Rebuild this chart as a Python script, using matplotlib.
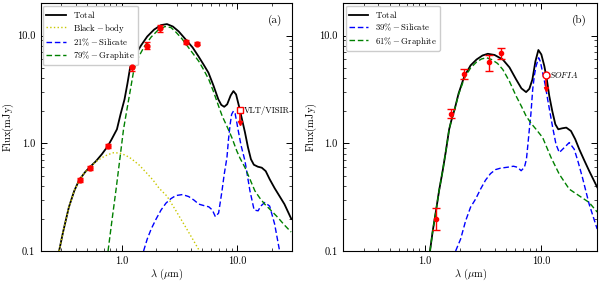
import matplotlib
matplotlib.use("Agg")
import matplotlib.pyplot as plt
from matplotlib.ticker import FixedLocator, FixedFormatter, LogLocator, NullFormatter


# ---- panel (a) ----
A_TOTAL_WL = [0.288, 0.313, 0.350, 0.389, 0.429, 0.483, 0.536, 0.600, 0.675, 0.759,
              0.821, 0.912, 0.98, 1.061, 1.125, 1.187, 1.292, 1.474, 1.668, 1.914,
              2.197, 2.472, 2.782, 3.13, 3.594, 4.125, 4.64, 5.12, 5.65, 6.24,
              6.88, 7.30, 7.74, 8.21, 8.80, 9.30, 9.80, 10.40, 11.03, 11.70,
              12.42, 13.18, 13.97, 15.11, 16.36, 17.70, 19.14, 21.13, 23.3, 25.7, 29.5]
A_TOTAL_F = [0.100, 0.153, 0.255, 0.360, 0.454, 0.539, 0.606, 0.681, 0.791, 0.938,
             1.089, 1.348, 1.856, 2.556, 3.59, 5.06, 6.39, 8.08, 9.79, 11.36,
             12.5, 12.77, 12.12, 10.89, 9.18, 7.74, 6.39, 5.39, 4.52, 3.44,
             2.556, 2.27, 2.18, 2.30, 2.78, 3.05, 2.84, 2.20, 1.668, 1.264,
             0.918, 0.711, 0.632, 0.606, 0.593, 0.551, 0.464, 0.383, 0.323, 0.272, 0.198]

A_BB_WL = [0.288, 0.313, 0.350, 0.389, 0.429, 0.483, 0.536, 0.600, 0.675, 0.759,
           0.854, 0.961, 1.082, 1.218, 1.425, 1.668, 1.877, 2.11, 2.472, 2.952,
           3.594, 4.125, 4.73]
A_BB_F = [0.100, 0.153, 0.255, 0.360, 0.454, 0.539, 0.606, 0.674, 0.734, 0.783,
          0.817, 0.811, 0.774, 0.718, 0.626, 0.522, 0.454, 0.383, 0.323, 0.237,
          0.166, 0.129, 0.100]

A_SIL_WL = [1.551, 1.668, 1.805, 1.991, 2.197, 2.424, 2.675, 2.952, 3.37, 3.81,
            4.23, 4.67, 5.15, 5.69, 6.11, 6.49, 6.92, 7.40, 7.74, 8.17,
            8.43, 8.71, 8.97, 9.30, 9.61, 9.94, 10.26, 10.82, 11.70, 12.92,
            14.05, 15.21, 16.03, 17.35, 19.14, 21.13, 23.3]
A_SIL_F = [0.100, 0.129, 0.160, 0.198, 0.240, 0.278, 0.306, 0.327, 0.334, 0.320,
           0.297, 0.272, 0.264, 0.257, 0.240, 0.208, 0.225, 0.360, 0.516, 0.737,
           1.089, 1.50, 1.856, 1.99, 1.896, 1.564, 1.292, 0.958, 0.686, 0.362,
           0.240, 0.236, 0.261, 0.282, 0.261, 0.178, 0.101]

A_GRA_WL = [0.764, 0.829, 0.897, 0.971, 1.040, 1.114, 1.194, 1.279, 1.397, 1.573,
            1.805, 2.071, 2.377, 2.675, 2.952, 3.32, 3.74, 4.21, 4.67, 5.12,
            5.69, 6.24, 6.92, 7.45, 8.17, 9.01, 9.94, 10.61, 11.70, 12.92,
            14.25, 15.73, 17.35, 19.9, 22.5, 25.7, 29.35]
A_GRA_F = [0.100, 0.198, 0.375, 0.742, 1.348, 2.065, 3.16, 4.84, 6.26, 7.91,
           9.69, 11.24, 12.12, 11.86, 10.77, 9.38, 7.91, 6.67, 5.75, 4.84,
           3.91, 3.03, 2.21, 1.778, 1.437, 1.129, 0.849, 0.726, 0.596, 0.464,
           0.362, 0.310, 0.272, 0.235, 0.205, 0.174, 0.150]

A_OBS_WL = [0.435, 0.536, 0.77, 1.235, 1.66, 2.15, 3.6, 4.52]
A_OBS_F = [0.46, 0.587, 0.94, 5.05, 8.08, 11.7, 8.67, 8.43]
A_OBS_ERR = [0.02, 0.025, 0.04, 0.35, 0.6, 0.9, 0.4, 0.3]

A_LIM_WL = 10.5
A_LIM_F = 2.02
A_LIM_LOW = 1.53
A_LIM_NAME = "VLT/VISIR"

# ---- panel (b) ----
B_TOTAL_WL = [1.110, 1.171, 1.249, 1.330, 1.425, 1.527, 1.620, 1.702, 1.805, 1.952,
              2.184, 2.472, 2.782, 3.13, 3.475, 3.97, 4.67, 5.33, 6.08, 6.75,
              7.40, 7.89, 8.38, 8.89, 9.43, 10.0, 10.61, 11.14, 11.70, 12.42,
              13.18, 13.97, 15.11, 16.36, 17.94, 19.53, 21.13, 23.3, 25.7, 30.1]
B_TOTAL_F = [0.100, 0.153, 0.236, 0.367, 0.554, 0.880, 1.348, 1.668, 2.065, 2.90,
             4.17, 5.28, 5.99, 6.53, 6.77, 6.60, 5.99, 5.06, 3.91, 3.23,
             2.985, 3.20, 3.91, 5.75, 7.34, 6.67, 5.20, 3.91, 2.74, 1.978,
             1.50, 1.348, 1.377, 1.397, 1.30, 1.089, 0.880, 0.696, 0.554, 0.391]

B_SIL_WL = [1.841, 2.031, 2.241, 2.472, 2.729, 3.01, 3.32, 3.66, 4.04, 4.46,
            5.12, 5.76, 6.24, 6.71, 7.16, 7.45, 7.67, 7.89, 8.13, 8.43,
            8.71, 9.01, 9.48, 9.80, 10.26, 10.82, 11.32, 11.94, 12.50, 13.35,
            14.25, 15.73, 17.35, 19.14, 20.7, 22.5, 25.7, 30.1]
B_SIL_F = [0.100, 0.129, 0.190, 0.255, 0.303, 0.375, 0.454, 0.522, 0.569, 0.587,
           0.599, 0.612, 0.599, 0.556, 0.599, 0.711, 0.979, 1.348, 1.856, 3.16,
           4.26, 5.20, 6.22, 5.75, 4.52, 3.44, 2.556, 1.856, 1.406, 0.979,
           0.820, 0.912, 1.015, 0.880, 0.667, 0.481, 0.272, 0.160]

B_GRA_WL = [1.110, 1.171, 1.249, 1.330, 1.425, 1.527, 1.620, 1.702, 1.805, 1.952,
            2.184, 2.472, 2.782, 3.07, 3.39, 3.74, 4.21, 4.67, 5.33, 6.08,
            6.75, 7.40, 8.17, 9.01, 10.26, 12.11, 14.25, 17.35, 21.13, 25.7, 30.1]
B_GRA_F = [0.100, 0.153, 0.236, 0.367, 0.554, 0.880, 1.348, 1.668, 2.065, 2.843,
           4.0, 5.00, 5.68, 6.06, 6.22, 5.99, 5.51, 4.84, 3.75, 2.74,
           2.20, 1.79, 1.53, 1.348, 1.129, 0.737, 0.516, 0.375, 0.325, 0.282, 0.23]

B_OBS_WL = [1.24, 1.67, 2.17, 3.59, 4.52]
B_OBS_F = [0.20, 1.88, 4.38, 5.62, 6.9]
B_OBS_ERR_LO = [0.045, 0.18, 0.47, 0.95, 0.8]
B_OBS_ERR_HI = [0.05, 0.18, 0.46, 0.91, 0.73]

B_LIM_WL = 11.0
B_LIM_F = 4.26
B_LIM_LOW = 3.16
B_LIM_NAME = r"$SOFIA$"

TICK_VALUES_Y = [0.1, 1.0, 10.0]
TICK_LABELS_Y = ["0.1", "1.0", "10.0"]
TICK_VALUES_X = [1.0, 10.0]
TICK_LABELS_X = ["1.0", "10.0"]


def setup_style():
    plt.rcParams["font.family"] = "serif"
    plt.rcParams["font.serif"] = ["cmr10", "DejaVu Serif"]
    plt.rcParams["mathtext.fontset"] = "cm"
    plt.rcParams["axes.unicode_minus"] = False
    plt.rcParams["axes.linewidth"] = 0.8


def style_axes(ax):
    ax.set_xscale("log")
    ax.set_yscale("log")
    ax.set_xlim(0.2, 30)
    ax.set_ylim(0.1, 20)

    ax.xaxis.set_major_locator(FixedLocator(TICK_VALUES_X))
    ax.xaxis.set_major_formatter(FixedFormatter(TICK_LABELS_X))
    ax.yaxis.set_major_locator(FixedLocator(TICK_VALUES_Y))
    ax.yaxis.set_major_formatter(FixedFormatter(TICK_LABELS_Y))
    ax.xaxis.set_minor_locator(LogLocator(base=10, subs=range(2, 10)))
    ax.yaxis.set_minor_locator(LogLocator(base=10, subs=range(2, 10)))
    ax.xaxis.set_minor_formatter(NullFormatter())
    ax.yaxis.set_minor_formatter(NullFormatter())

    ax.tick_params(which="both", direction="in", top=True, right=True, labelsize=7.5)
    ax.tick_params(which="major", length=4, width=0.7, pad=4)
    ax.tick_params(which="minor", length=2, width=0.5)

    ax.set_xlabel(r"$\lambda\ (\mu{\rm m})$", fontsize=7.5, labelpad=0.5)
    ax.set_ylabel(r"${\rm Flux(mJy)}$", fontsize=7.5, labelpad=0.5)


def draw_limit(ax, wl, flux, low, marker):
    ax.plot([wl, wl], [flux, low], color="red", lw=1.2, zorder=4)
    ax.plot(wl, low, marker="v", color="red", ms=3, zorder=4)
    ax.plot(wl, flux, marker=marker, mfc="white", mec="red", mew=1.0, ms=5,
            ls="none", zorder=5)


def add_legend(ax):
    ax.legend(loc="upper left", fontsize=6.3, framealpha=1, edgecolor="#cccccc",
              borderaxespad=0.3, handlelength=2.2, labelspacing=0.2,
              borderpad=0.35)


def panel_a(ax):
    ax.plot(A_TOTAL_WL, A_TOTAL_F, color="black", lw=1.3, label=r"$\rm Total$")
    ax.plot(A_BB_WL, A_BB_F, color="#c8c800", lw=1.0, ls=":",
            label=r"$\rm Black-body$")
    ax.plot(A_SIL_WL, A_SIL_F, color="blue", lw=1.0, ls=(0, (4, 2)),
            label=r"$\rm 21\%-Silicate$")
    ax.plot(A_GRA_WL, A_GRA_F, color="green", lw=1.0, ls=(0, (4, 2)),
            label=r"$\rm 79\%-Graphite$")

    ax.errorbar(A_OBS_WL, A_OBS_F, yerr=A_OBS_ERR, fmt="o", color="red",
                ms=3.5, capsize=2.5, elinewidth=1, capthick=1, zorder=5)
    draw_limit(ax, A_LIM_WL, A_LIM_F, A_LIM_LOW, "s")
    ax.text(A_LIM_WL * 1.08, A_LIM_F, A_LIM_NAME, fontsize=6.2, va="center",
            ha="left")

    ax.text(0.96, 0.955, "(a)", transform=ax.transAxes, fontsize=8,
            ha="right", va="top")
    add_legend(ax)


def panel_b(ax):
    ax.plot(B_TOTAL_WL, B_TOTAL_F, color="black", lw=1.3, label=r"$\rm Total$")
    ax.plot(B_SIL_WL, B_SIL_F, color="blue", lw=1.0, ls=(0, (4, 2)),
            label=r"$\rm 39\%-Silicate$")
    ax.plot(B_GRA_WL, B_GRA_F, color="green", lw=1.0, ls=(0, (4, 2)),
            label=r"$\rm 61\%-Graphite$")

    ax.errorbar(B_OBS_WL, B_OBS_F, yerr=[B_OBS_ERR_LO, B_OBS_ERR_HI], fmt="o",
                color="red", ms=3, capsize=3, elinewidth=1, capthick=1, zorder=5)
    draw_limit(ax, B_LIM_WL, B_LIM_F, B_LIM_LOW, "o")
    ax.text(B_LIM_WL * 1.06, B_LIM_F, B_LIM_NAME, fontsize=6.2, va="center",
            ha="left")

    ax.text(0.96, 0.955, "(b)", transform=ax.transAxes, fontsize=8,
            ha="right", va="top")
    add_legend(ax)


def main():
    setup_style()
    fig = plt.figure(figsize=(6.0, 2.82), dpi=100)
    ax_a = fig.add_axes([0.068, 0.11, 0.419, 0.879])
    ax_b = fig.add_axes([0.572, 0.11, 0.423, 0.879])

    for ax in (ax_a, ax_b):
        style_axes(ax)

    panel_a(ax_a)
    panel_b(ax_b)

    fig.savefig("out.png", dpi=100)


if __name__ == "__main__":
    main()
